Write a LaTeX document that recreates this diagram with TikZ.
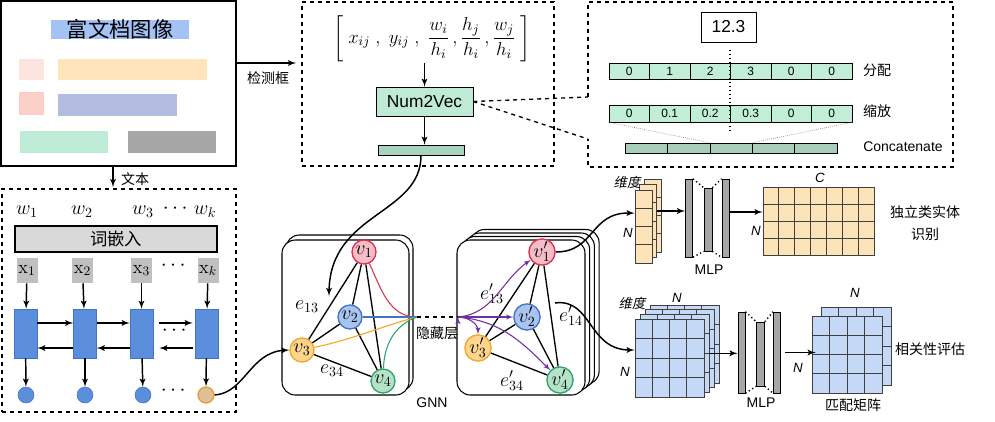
\RequirePackage{fix-cm}
\documentclass[tikz,border=0pt]{standalone}
\usepackage{amsmath}
\usepackage[no-math]{fontspec}
\setmainfont{Liberation Sans}
\newfontfamily\cjk{Noto Sans CJK SC}
\newfontfamily\cjkit[FakeSlant=0.2]{Noto Sans CJK SC}
\usepackage{tikz}
\usetikzlibrary{shapes, arrows, positioning}
\definecolor{titleblue}{HTML}{A4C2F4}
\definecolor{pinkA}{HTML}{FCE4DF}
\definecolor{orangeA}{HTML}{FFE3B9}
\definecolor{salmonA}{HTML}{F9CFC7}
\definecolor{lavA}{HTML}{B1BCE0}
\definecolor{mintA}{HTML}{BDEBD6}
\definecolor{grayA}{HTML}{A6A6A6}
\definecolor{embgray}{HTML}{D9D9D9}
\definecolor{xgray}{HTML}{C0C0C0}
\definecolor{lstmblue}{HTML}{5B8FDB}
\definecolor{lstmedge}{HTML}{4472C4}
\definecolor{outfill}{HTML}{DDBF98}
\definecolor{outedge}{HTML}{E8982F}
\definecolor{n2vgreen}{HTML}{BFEBD6}
\definecolor{bargreen}{HTML}{A8D3BE}
\definecolor{cellgreen}{HTML}{C2EED8}
\definecolor{catgreen}{HTML}{A9CDBB}
\definecolor{vred}{HTML}{E0314B}
\definecolor{vredfill}{HTML}{F4BDC8}
\definecolor{vblue}{HTML}{4472C4}
\definecolor{vbluefill}{HTML}{A9C4F0}
\definecolor{vorange}{HTML}{F5A623}
\definecolor{vorangefill}{HTML}{FFD58F}
\definecolor{vgreen}{HTML}{2EA36B}
\definecolor{vgreenfill}{HTML}{B4E3C8}
\definecolor{vpurple}{HTML}{7030A0}
\definecolor{matorange}{HTML}{FDE3B9}
\definecolor{matblue}{HTML}{C5D8F5}
\definecolor{gridline}{HTML}{404040}
\tikzstyle{->}    = [draw, -latex', line width=1.1pt]
\tikzstyle{dbox}  = [draw, dashed, line width=1pt, inner sep=0pt]
\tikzstyle{rbox}  = [draw, rectangle, inner sep=0pt]
\tikzstyle{cell}  = [rbox, fill=cellgreen, minimum width=30.4pt, font=\fontsize{9}{9}\selectfont]
\tikzstyle{cat}   = [rbox, fill=catgreen, minimum width=31.8pt, minimum height=7.5pt]
\tikzstyle{o}     = [draw, circle, inner sep=0pt, minimum size=18pt, line width=1pt, font=\fontsize{15}{15}\selectfont]
\tikzstyle{lstm}  = [rectangle, fill=lstmblue, draw=lstmedge, minimum width=17.25pt, minimum height=36.75pt]
\tikzstyle{xin}   = [rectangle, fill=xgray, minimum width=15.75pt, minimum height=18.75pt, inner sep=0pt, font=\fontsize{14}{14}\selectfont]
\tikzstyle{hid}   = [circle, fill=lstmblue, draw=lstmedge, minimum size=12pt, inner sep=0pt]
\tikzstyle{mlp}   = [rbox, fill=grayA, minimum width=5.5pt]
\tikzstyle{gedge} = [draw, line width=1pt]
\tikzstyle{dots}  = [draw, dotted, line width=1pt]
\tikzstyle{gnn}   = [draw, rounded corners=10pt, fill=white, line width=0.8pt]
\tikzstyle{lbl}   = [font=\fontsize{10.5}{12}\selectfont]
\tikzstyle{big}   = [font=\fontsize{15}{15}\selectfont]
\tikzstyle{ell}   = [font=\fontsize{16}{16}\selectfont\bfseries]
% name, x1, y1, x2, y2, cols, rows, colour
\newcommand{\gridbox}[8]{%
  \node [rbox, draw=gridline, line width=0.6pt, fill=#8, minimum width={(#4-#2)*0.75pt}, minimum height={(#5-#3)*0.75pt}] (#1) at ({(#2+#4)/2}, {(#3+#5)/2}) {};
  \foreach \k in {1,...,#6} \draw [gridline, line width=0.6pt] ({#2+(\k-1)*(#4-#2)/#6}, #3) -- ({#2+(\k-1)*(#4-#2)/#6}, #5);
  \foreach \k in {1,...,#7} \draw [gridline, line width=0.6pt] (#2, {#3+(\k-1)*(#5-#3)/#7}) -- (#4, {#3+(\k-1)*(#5-#3)/#7});
}

\begin{document}
\begin{tikzpicture}[x=0.75pt, y=-0.75pt, font=\fontsize{10}{12}\selectfont]
\useasboundingbox (0,0) rectangle (995,421);

% document image
\node [rbox, line width=1.6pt, minimum width=176pt, minimum height=123.5pt] at (118.5,83.5) (doc) {};
\node [fill=titleblue, minimum width=103.5pt, minimum height=14.25pt, inner sep=0pt, font=\cjk\fontsize{16}{16}\selectfont] at (120,29.5) (title) {富文档图像};
\fill [pinkA]   (19,59)  rectangle (44,80);
\fill [orangeA] (58,59)  rectangle (207,80);
\fill [salmonA] (19,92)  rectangle (44,115);
\fill [lavA]    (58,94)  rectangle (177,116);
\fill [mintA]   (20,131) rectangle (108,153);
\fill [grayA]   (128,131) rectangle (216,153);

% box features
\node [dbox, minimum width=189pt, minimum height=123pt] at (428,84) (box) {};
\node [font=\fontsize{14}{18}\selectfont, inner sep=1pt] at (432,38.5) (fml) {$\left[\; x_{ij}\;,\; y_{ij}\;,\;\dfrac{w_i}{h_i}\,,\dfrac{h_j}{h_i}\,,\dfrac{w_j}{h_i} \;\right]$};
\node [rbox, fill=n2vgreen, minimum width=72.75pt, minimum height=21.75pt, font=\fontsize{13}{13}\selectfont] at (424.5,101.5) (n2v) {Num2Vec};
\node [rbox, fill=bargreen, minimum width=64.5pt, minimum height=7.5pt] at (421,150) (bar) {};
\node [lbl] at (268,78) (lbox) {\cjk 检测框};
\coordinate (boxin) at (296,63);

% num2vec detail
\coordinate (zt) at (588,97);
\coordinate (zb) at (588,139);
\draw [dbox] (zt) -- (588,2) -- (953,2) -- (953,167) -- (588,167) -- (zb);
\node [rbox, minimum width=41.25pt, minimum height=22.5pt, font=\fontsize{13}{13}\selectfont] at (728.5,27) (num) {12.3};
\node [cell, minimum height=12pt] at (629.25,71) (a1) {0};
\node [cell, minimum height=12pt] at (669.75,71) (a2) {1};
\node [cell, minimum height=12pt] at (710.25,71) (a3) {2};
\node [cell, minimum height=12pt] at (750.75,71) (a4) {3};
\node [cell, minimum height=12pt] at (791.25,71) (a5) {0};
\node [cell, minimum height=12pt] at (831.75,71) (a6) {0};
\node [cell, minimum height=12.75pt] at (629.25,113.5) (s1) {0};
\node [cell, minimum height=12.75pt] at (669.75,113.5) (s2) {0.1};
\node [cell, minimum height=12.75pt] at (710.25,113.5) (s3) {0.2};
\node [cell, minimum height=12.75pt] at (750.75,113.5) (s4) {0.3};
\node [cell, minimum height=12.75pt] at (791.25,113.5) (s5) {0};
\node [cell, minimum height=12.75pt] at (831.75,113.5) (s6) {0};
\node [cat] at (646.2,148) (c1) {};
\node [cat] at (688.6,148) (c2) {};
\node [cat] at (731,148)   (c3) {};
\node [cat] at (773.4,148) (c4) {};
\node [cat] at (815.8,148) (c5) {};
\node [lbl] at (877,70)  (lfen) {\cjk 分配};
\node [lbl] at (877,111) (lsuo) {\cjk 缩放};
\node [lbl] at (903,147) (lcat) {Concatenate};
\draw [dots] (730,50) -- (730,132);
\draw [densely dotted, gray, line width=0.5pt] (s1.south west) -- (c3.north west);
\draw [densely dotted, gray, line width=0.5pt] (s6.south east) -- (c3.north east);

% text encoder
\node [dbox, minimum width=175.5pt, minimum height=167.25pt] at (119,300.5) (tbox) {};
\node [lbl] at (135,179) (ltext) {\cjk 文本};
\node [big] at (27,212)  (w1) {$w_1$};
\node [big] at (82,212)  (w2) {$w_2$};
\node [big] at (143,212) (w3) {$w_3$};
\node [ell] at (177,209) (wd) {$\cdots$};
\node [big] at (205,212) (wk) {$w_k$};
\node [rbox, fill=embgray, line width=1pt, minimum width=151.5pt, minimum height=19.5pt, font=\cjk\fontsize{13}{13}\selectfont] at (116,239) (emb) {词嵌入};
\node [xin] at (27,270.5)  (x1) {$\mathrm{x}_1$};
\node [xin] at (82.5,270.5) (x2) {$\mathrm{x}_2$};
\node [xin] at (141.5,270.5) (x3) {$\mathrm{x}_3$};
\node [ell] at (175,266) (xd) {$\cdots$};
\node [xin] at (208,270.5) (xk) {$\mathrm{x}_k$};
\node [lstm] at (25.5,333.5) (l1) {};
\node [lstm] at (85,333.5)   (l2) {};
\node [lstm] at (141.5,333.5) (l3) {};
\node [lstm] at (206.5,333.5) (lk) {};
\node [ell] at (176,331) (ld) {$\cdots$};
\node [hid] at (26,395)  (h1) {};
\node [hid] at (85,395)  (h2) {};
\node [hid] at (143,395) (h3) {};
\node [ell] at (175,391) (hd) {$\cdots$};
\node [hid, fill=outfill, draw=outedge, line width=0.9pt] at (206,395) (hk) {};

% GNN
\draw [gnn] (286,235) rectangle (413,391);
\draw [gnn] (282,240) rectangle (409,395);
\draw [gnn] (471.1,229.5) rectangle (599.1,384.5);
\draw [gnn] (466.4,233) rectangle (594.4,388);
\draw [gnn] (461.7,236.5) rectangle (589.7,391.5);
\draw [gnn] (457,240) rectangle (585,395);
\node [o, draw=vred, fill=vredfill]       at (364,252) (v1) {$v_1$};
\node [o, draw=vblue, fill=vbluefill]     at (350,317) (v2) {$v_2$};
\node [o, draw=vorange, fill=vorangefill] at (302,350) (v3) {$v_3$};
\node [o, draw=vgreen, fill=vgreenfill]   at (383,381) (v4) {$v_4$};
\node [o, draw=vred, fill=vredfill]       at (542,252) (v1p) {$v_1'$};
\node [o, draw=vblue, fill=vbluefill]     at (527,317) (v2p) {$v_2'$};
\node [o, draw=vorange, fill=vorangefill] at (478,348) (v3p) {$v_3'$};
\node [o, draw=vgreen, fill=vgreenfill]   at (560,380) (v4p) {$v_4'$};
\node [big] at (307,307) (e13) {$e_{13}$};
\node [big] at (332,371) (e34) {$e_{34}$};
\node [big] at (492,294) (e13p) {$e_{13}'$};
\node [big] at (512,381) (e34p) {$e_{34}'$};
\node [big] at (571,316) (e14p) {$e_{14}'$};
\node [lbl] at (432,403) (lgnn) {GNN};
\node [lbl] at (437,333) (lhid) {\cjk 隐藏层};
\coordinate (hj) at (417,317);
\coordinate (hk2) at (458,317);
\coordinate (ein) at (329,296);
\coordinate (eout) at (555,303);

% outputs
\gridbox{ts3}{644}{179}{661}{252}{1}{4}{matorange}
\gridbox{ts2}{639.5}{184.5}{656.5}{257.5}{1}{4}{matorange}
\gridbox{ts1}{635}{190}{652}{263}{1}{4}{matorange}
\node [font=\cjkit\fontsize{10}{10}\selectfont] at (627,182) (ldim1) {维度};
\node [font=\itshape] at (628,233) (ln1) {N};
\node [mlp, minimum height=58.5pt] at (689,218)   (ma1) {};
\node [mlp, minimum height=47.25pt, minimum width=6pt] at (708,219.5) (mb1) {};
\node [mlp, minimum height=58.5pt] at (725.5,218) (mc1) {};
\node [lbl] at (709,270) (lmlp1) {MLP};
\gridbox{mat}{763}{187}{874}{255}{7}{4}{matorange}
\node [font=\itshape] at (820,178) (lc) {C};
\node [font=\itshape] at (756,231) (ln2) {N};
\node [lbl, align=center, font=\cjk\fontsize{10.5}{16}\selectfont] at (925,223) (lent) {独立类实体\\识别};

\gridbox{bs4}{650}{304.9}{719}{382.9}{4}{4}{matblue}
\gridbox{bs3}{645}{309.6}{714}{387.6}{4}{4}{matblue}
\gridbox{bs2}{640}{314.3}{709}{392.3}{4}{4}{matblue}
\gridbox{bs1}{635}{319}{704}{397}{4}{4}{matblue}
\node [font=\cjkit\fontsize{10}{10}\selectfont] at (632,303) (ldim2) {维度};
\node [font=\itshape] at (677,298) (ln3) {N};
\node [font=\itshape] at (625,372) (ln4) {N};
\node [mlp, minimum height=60.75pt] at (741.5,352.5) (ma2) {};
\node [mlp, minimum height=48pt, minimum width=6pt] at (760.5,354) (mb2) {};
\node [mlp, minimum height=60.75pt] at (777,352.5) (mc2) {};
\node [lbl] at (761,403) (lmlp2) {MLP};
\gridbox{mm2}{821}{307}{891}{385}{4}{4}{matblue}
\gridbox{mm1}{812}{316}{882}{393}{4}{4}{matblue}
\node [font=\itshape] at (855,293) (ln5) {N};
\node [font=\itshape] at (798,368) (ln6) {N};
\node [lbl, font=\cjk\fontsize{10.5}{12}\selectfont] at (853,405) (lmatch) {匹配矩阵};
\node [lbl, font=\cjk\fontsize{10.5}{12}\selectfont] at (930,349) (lrel) {相关性评估};

%  edges
\path [->] (x1) edge (l1)  (x2) edge (l2)  (x3) edge (l3)  (xk) edge (lk)
           (l1) edge (h1)  (l2) edge (h2)  (l3) edge (h3)  (lk) edge (hk);
\draw [->] (doc.east |- boxin) -- (boxin);
\draw [->] (doc.south -| 113,0) -- (113,187);
\draw [->] (n2v.north |- fml.south) -- (n2v.north);
\draw [->] (n2v.south) -- (n2v.south |- bar.north);
\draw [->] ([yshift=7.9pt]l1.east) -- ([yshift=7.9pt]l2.west);
\draw [->] ([yshift=7.9pt]l2.east) -- ([yshift=7.9pt]l3.west);
\draw [->] ([yshift=7.9pt,xshift=4.5pt]l3.east) -- ([yshift=7.9pt,xshift=-1.5pt]lk.west);
\draw [->] ([yshift=-10.9pt]l2.west) -- ([yshift=-10.9pt]l1.east);
\draw [->] ([yshift=-10.9pt]l3.west) -- ([yshift=-10.9pt]l2.east);
\draw [->] ([yshift=-10.9pt,xshift=-1.5pt]lk.west) -- ([yshift=-10.9pt,xshift=4.5pt]l3.east);
\draw [->] ([yshift=7.5pt]ts2.east) -- ([yshift=7.5pt]ts2.east -| ma1.west);
\draw [->] ([yshift=4.5pt]mc1.east) -- ([yshift=4.5pt]mc1.east -| mat.west);
\draw [->] (bs2.east) -- (bs2.east -| ma2.west);
\draw [->] ([xshift=3pt]mc2.east) -- ([xshift=3pt]mc2.east -| mm1.west);
\draw [dbox] (n2v.east) -- (zt);
\draw [dbox] (n2v.east) -- (zb);
\draw [dots] (ma1.north east) -- (mb1.north west) (mb1.north east) -- (mc1.north west)
             (ma1.south east) -- (mb1.south west) (mb1.south east) -- (mc1.south west);
\draw [dots] (ma2.north east) -- (mb2.north west) (mb2.north east) -- (mc2.north west)
             (ma2.south east) -- (mb2.south west) (mb2.south east) -- (mc2.south west);
\path [gedge] (v1) edge (v2) (v1) edge (v3) (v1) edge (v4)
              (v2) edge (v3) (v2) edge (v4) (v3) edge (v4)
              (v1p) edge (v2p) (v1p) edge (v3p) (v1p) edge (v4p)
              (v2p) edge (v3p) (v2p) edge (v4p) (v3p) edge (v4p);
\draw [vred, line width=0.8pt]    (v1) to [out=-65, in=180] (hj);
\draw [vblue, line width=0.8pt]   (v2) to [out=0, in=180] (hj);
\draw [vorange, line width=0.8pt] (v3) to [out=12, in=195] (hj);
\draw [vgreen, line width=0.8pt]  (v4) to [out=88, in=200] (hj);
\draw [dashed, line width=1pt] (hj) -- (hk2);
\path [->, vpurple, line width=0.8pt] (hk2) edge [out=5, in=215] (v1p)
                                      (hk2) edge (v2p)
                                      (hk2) edge [out=0, in=90] (v3p)
                                      (hk2) edge [out=-5, in=135] (v4p);
\draw [->] (bar.south) .. controls (421,215) and (330,212) .. (ein);
\draw [->] (hk.east) .. controls (245,393) and (250,352) .. (v3.west);
\draw [->] (v1p.east) .. controls (595,252) and (590,212) .. ([yshift=10pt]ts1.west);
\draw [->] (eout) .. controls (592,298) and (588,350) .. ([yshift=6pt]bs1.west);

\end{tikzpicture}
\end{document}
